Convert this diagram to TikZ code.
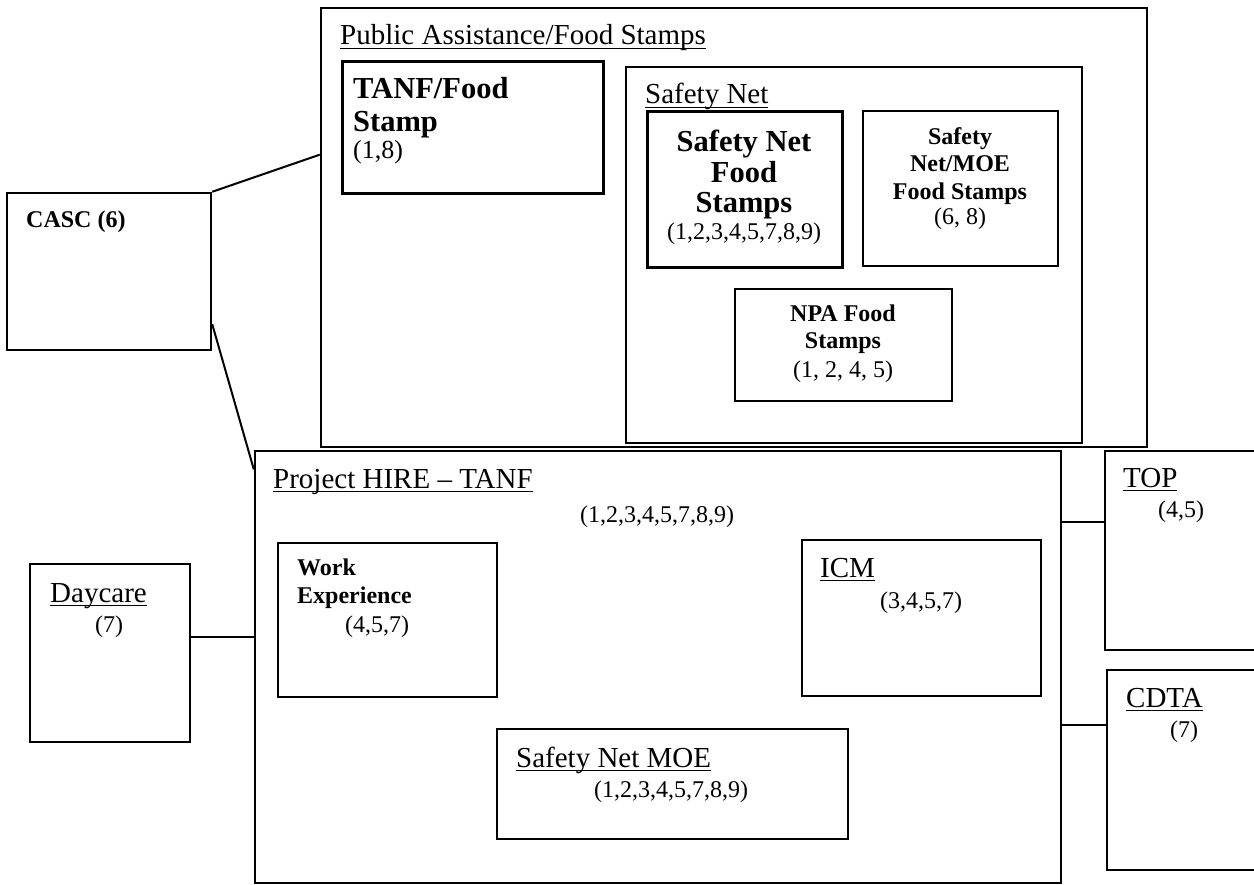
\documentclass[tikz,border=0pt]{standalone}
\usepackage{fontspec}
\setmainfont{Liberation Serif}
\usetikzlibrary{fit,calc}

% underlined label, rule a bit below the baseline
\newsavebox\ulbox
\newcommand{\ulabel}[1]{\sbox\ulbox{#1}\rlap{\rule[-0.15em]{\wd\ulbox}{0.06em}}\usebox\ulbox}

\begin{document}
\begin{tikzpicture}[
    x=1pt, y=-1pt,
    box/.style={draw, line width=2.4pt, inner sep=0pt},
    thickbox/.style={box, line width=3pt},
    link/.style={line width=2pt},
    title/.style={font=\fontsize{29}{31}\selectfont, inner sep=0pt, anchor=base west},
    nums/.style={font=\fontsize{24}{26}\selectfont, inner sep=0pt, anchor=base west},
    bigbold/.style={font=\fontsize{30.5}{32}\selectfont\bfseries, inner sep=0pt, anchor=base west},
    smallbold/.style={font=\fontsize{24}{26}\selectfont\bfseries, inner sep=0pt, anchor=base west}
]
    \useasboundingbox (0,0) rectangle (1254,885);

    % --- BOXES ---
    \node[box, fit={(321,8) (1147,447)}] (pa) {};
    \node[box, fit={(626,67) (1082,443)}] (snet) {};
    \node[thickbox, fit={(342,62) (603,194)}] (tanf) {};
    \node[thickbox, fit={(647,112) (842,268)}] (snfs) {};
    \node[box, fit={(863,111) (1058,266)}] (snmoefs) {};
    \node[box, fit={(735,289) (952,401)}] (npa) {};
    \node[box, fit={(7,193) (211,350)}] (casc) {};
    \node[box, fit={(255,451) (1061,883)}] (hire) {};
    \node[box, fit={(278,543) (497,697)}] (work) {};
    \node[box, fit={(802,540) (1041,696)}] (icm) {};
    \node[box, fit={(497,729) (848,839)}] (snmoe) {};
    \node[box, fit={(30,564) (190,742)}] (daycare) {};
    \node[box, fit={(1105,451) (1275,650)}] (topbox) {};
    \node[box, fit={(1107,670) (1275,870)}] (cdta) {};

    % --- CONNECTORS ---
    \draw[link] (casc.north east) -- ($(pa.north west)!0.335!(pa.south west)$);
    \draw[link] ($(casc.north east)!0.83!(casc.south east)$) -- ($(hire.north west)!0.045!(hire.south west)$);

    \coordinate (dcj) at ($(daycare.north east)!0.41!(daycare.south east)$);
    \coordinate (tj) at ($(topbox.north west)!0.357!(topbox.south west)$);
    \coordinate (cj) at ($(cdta.north west)!0.28!(cdta.south west)$);
    \draw[link] (dcj) -- (dcj -| hire.west);
    \draw[link] (tj -| hire.east) -- (tj);
    \draw[link] (cj -| hire.east) -- (cj);

    % --- LABELS (top group) ---
    \node[title] (pa-t) at (340,45) {\ulabel{Public Assistance/Food Stamps}};

    \node[bigbold] (tanf-a) at (353,99) {TANF/Food};
    \node[bigbold] (tanf-b) at (353,132) {Stamp};
    \node[nums, font=\fontsize{26}{28}\selectfont] (tanf-c) at (353,159) {(1,8)};

    \node[title] (snet-t) at (645,104) {\ulabel{Safety Net}};

    \node[bigbold, anchor=base] (snfs-a) at (744,152) {Safety Net};
    \node[bigbold, anchor=base] (snfs-b) at (744,183) {Food};
    \node[bigbold, anchor=base] (snfs-c) at (744,213) {Stamps};
    \node[nums, anchor=base] (snfs-d) at (744,240) {(1,2,3,4,5,7,8,9)};

    \node[smallbold, anchor=base] (snmoefs-a) at (960,145) {Safety};
    \node[smallbold, anchor=base] (snmoefs-b) at (960,172) {Net/MOE};
    \node[smallbold, anchor=base] (snmoefs-c) at (960,200) {Food Stamps};
    \node[nums, anchor=base] (snmoefs-d) at (960,225) {(6, 8)};

    \node[smallbold, anchor=base] (npa-a) at (843,322) {NPA Food};
    \node[smallbold, anchor=base] (npa-b) at (843,349) {Stamps};
    \node[nums, anchor=base] (npa-c) at (843,378) {(1, 2, 4, 5)};

    \node[smallbold] (casc-t) at (26,228) {CASC (6)};

    % --- LABELS (bottom group) ---
    \node[title] (hire-t) at (273,488) {\ulabel{Project HIRE -- TANF}};
    \node[nums] (hire-n) at (580,522) {(1,2,3,4,5,7,8,9)};

    \node[smallbold] (work-a) at (297,575) {Work};
    \node[smallbold] (work-b) at (297,603) {Experience};
    \node[nums] (work-c) at (345,632) {(4,5,7)};

    \node[title] (icm-t) at (820,577) {\ulabel{ICM}};
    \node[nums] (icm-n) at (880,608) {(3,4,5,7)};

    \node[title] (snmoe-t) at (516,767) {\ulabel{Safety Net MOE}};
    \node[nums] (snmoe-n) at (594,797) {(1,2,3,4,5,7,8,9)};

    \node[title] (daycare-t) at (50,602) {\ulabel{Daycare}};
    \node[nums] (daycare-n) at (95,632) {(7)};

    \node[title] (top-t) at (1123,487) {\ulabel{TOP}};
    \node[nums] (top-n) at (1158,517) {(4,5)};

    \node[title] (cdta-t) at (1126,707) {\ulabel{CDTA}};
    \node[nums] (cdta-n) at (1170,737) {(7)};

\end{tikzpicture}
\end{document}
